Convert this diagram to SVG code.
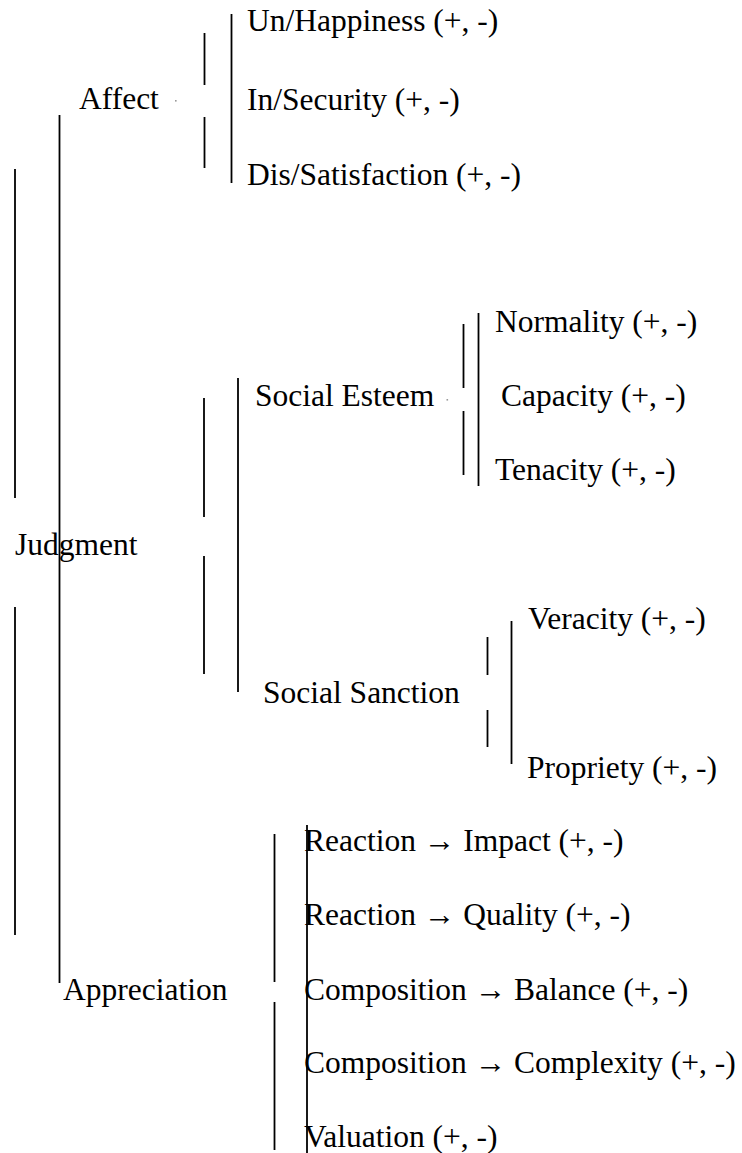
<svg xmlns="http://www.w3.org/2000/svg" width="742" height="1153" viewBox="0 0 742 1153">
<style>
.c line{stroke:#000;stroke-width:1.8;fill:none}
.dot{fill:#999}
.t{font-size:31.5px;fill:#000}
</style>
<rect width="742" height="1153" fill="#fff"/>
<g id="connectors" class="c">
<line x1="15" y1="169" x2="15" y2="498"/>
<line x1="15" y1="607" x2="15" y2="935"/>
<line x1="59.5" y1="115" x2="59.5" y2="983"/>
<line x1="204.5" y1="33" x2="204.5" y2="85"/>
<line x1="204.5" y1="117" x2="204.5" y2="168"/>
<line x1="231.5" y1="14" x2="231.5" y2="183"/>
<line x1="204" y1="398" x2="204" y2="517"/>
<line x1="204" y1="556" x2="204" y2="674"/>
<line x1="238" y1="378" x2="238" y2="692"/>
<line x1="463.5" y1="324" x2="463.5" y2="388"/>
<line x1="463.5" y1="411" x2="463.5" y2="475"/>
<line x1="478.5" y1="313" x2="478.5" y2="486"/>
<line x1="487.5" y1="637" x2="487.5" y2="675"/>
<line x1="487.5" y1="710" x2="487.5" y2="747"/>
<line x1="511.5" y1="621" x2="511.5" y2="764"/>
<line x1="274.5" y1="834" x2="274.5" y2="982"/>
<line x1="274.5" y1="1002" x2="274.5" y2="1150"/>
<line x1="307" y1="825" x2="307" y2="1153"/>
<rect class="dot" x="175" y="100" width="1.6" height="1.6"/>
<rect class="dot" x="446.5" y="399" width="1.6" height="1.6"/>
</g>
<g id="judgment"><text class="t" font-family="'Liberation Serif', serif" font-size="31.5" x="15" y="555">Judgment</text></g>
<g id="affect"><text class="t" font-family="'Liberation Serif', serif" font-size="31.5" x="79" y="109">Affect</text></g>
<g id="unhappiness"><text class="t" font-family="'Liberation Serif', serif" font-size="31.5" x="247" y="31">Un/Happiness (+, -)</text></g>
<g id="insecurity"><text class="t" font-family="'Liberation Serif', serif" font-size="31.5" x="247" y="110">In/Security (+, -)</text></g>
<g id="dissatisfaction"><text class="t" font-family="'Liberation Serif', serif" font-size="31.5" x="247" y="185">Dis/Satisfaction (+, -)</text></g>
<g id="social-esteem"><text class="t" font-family="'Liberation Serif', serif" font-size="31.5" x="255" y="406">Social Esteem</text></g>
<g id="normality"><text class="t" font-family="'Liberation Serif', serif" font-size="31.5" x="495" y="332">Normality (+, -)</text></g>
<g id="capacity"><text class="t" font-family="'Liberation Serif', serif" font-size="31.5" x="501" y="406">Capacity (+, -)</text></g>
<g id="tenacity"><text class="t" font-family="'Liberation Serif', serif" font-size="31.5" x="495" y="480">Tenacity (+, -)</text></g>
<g id="social-sanction"><text class="t" font-family="'Liberation Serif', serif" font-size="31.5" x="263" y="703">Social Sanction</text></g>
<g id="veracity"><text class="t" font-family="'Liberation Serif', serif" font-size="31.5" x="528" y="629">Veracity (+, -)</text></g>
<g id="propriety"><text class="t" font-family="'Liberation Serif', serif" font-size="31.5" x="527" y="778">Propriety (+, -)</text></g>
<g id="appreciation"><text class="t" font-family="'Liberation Serif', serif" font-size="31.5" x="63" y="1000">Appreciation</text></g>
<g id="reaction-impact"><text class="t" font-family="'Liberation Serif', serif" font-size="31.5" x="304" y="851">Reaction → Impact (+, -)</text></g>
<g id="reaction-quality"><text class="t" font-family="'Liberation Serif', serif" font-size="31.5" x="304" y="925">Reaction → Quality (+, -)</text></g>
<g id="composition-balance"><text class="t" font-family="'Liberation Serif', serif" font-size="31.5" x="304" y="1000">Composition → Balance (+, -)</text></g>
<g id="composition-complexity"><text class="t" font-family="'Liberation Serif', serif" font-size="31.5" x="304" y="1073">Composition → Complexity (+, -)</text></g>
<g id="valuation"><text class="t" font-family="'Liberation Serif', serif" font-size="31.5" x="304" y="1147">Valuation (+, -)</text></g>
</svg>
